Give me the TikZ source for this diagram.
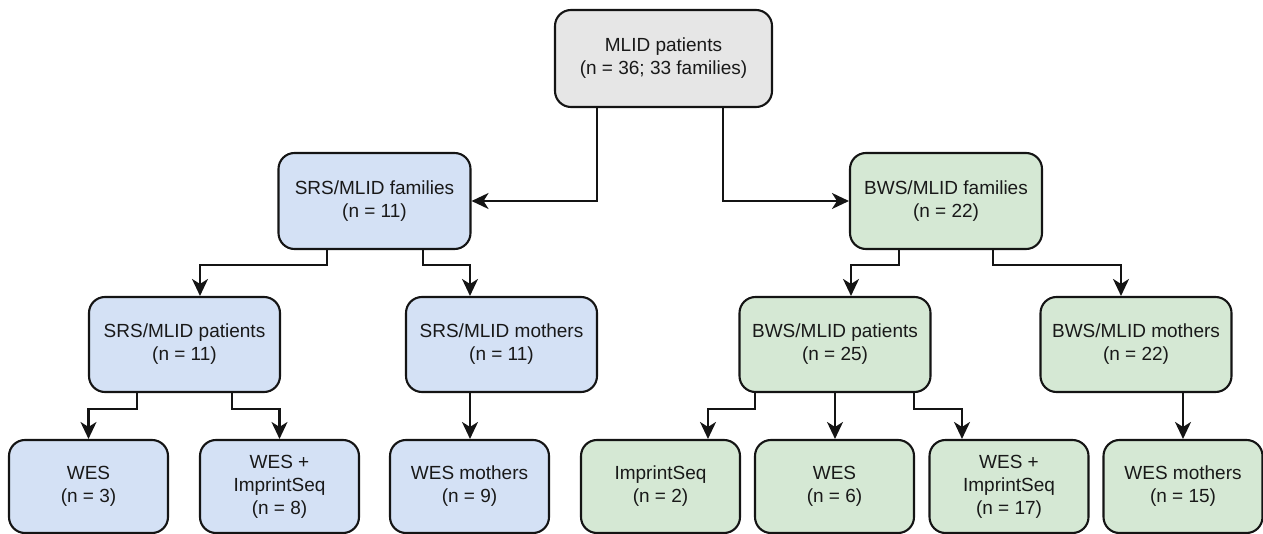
\documentclass[tikz,border=0pt]{standalone}
\usepackage{fontspec}
\setmainfont{Liberation Sans}
\usetikzlibrary{arrows.meta}
\definecolor{grayfill}{HTML}{E6E6E6}
\definecolor{bluefill}{HTML}{D4E1F5}
\definecolor{greenfill}{HTML}{D5E8D4}
\definecolor{edge}{HTML}{141414}
\begin{document}
\begin{tikzpicture}[x=1pt,y=-1pt,
  box/.style={draw=edge, line width=2.1pt, rounded corners=16pt, align=center,
    font=\fontsize{19}{23}\selectfont, text=black!90, inner sep=0pt},
  topbox/.style={box, fill=grayfill, minimum width=217pt, minimum height=97pt},
  midbox/.style={box, minimum width=192pt, minimum height=96pt},
  rowthree/.style={box, minimum width=191pt, minimum height=95pt},
  leaf/.style={box, minimum width=159pt, minimum height=93pt},
  blue/.style={fill=bluefill},
  green/.style={fill=greenfill},
  conn/.style={draw=edge, line width=2.1pt, -{Stealth[length=17pt,width=16pt,inset=5pt]}}
]
\useasboundingbox (0,0) rectangle (1263,534);

\node[topbox] (top) at (663.5,58.5) {MLID patients\\(n = 36; 33 families)};

\node[midbox,blue] (srsfam) at (374.5,201) {SRS/MLID families\\(n = 11)};
\node[midbox,green] (bwsfam) at (946,201) {BWS/MLID families\\(n = 22)};

\node[rowthree,blue] (srspat) at (184.5,344.5) {SRS/MLID patients\\(n = 11)};
\node[rowthree,blue] (srsmom) at (501.5,344.5) {SRS/MLID mothers\\(n = 11)};
\node[rowthree,green] (bwspat) at (835,344.5) {BWS/MLID patients\\(n = 25)};
\node[rowthree,green] (bwsmom) at (1136,344.5) {BWS/MLID mothers\\(n = 22)};

\node[leaf,blue] (wes1) at (88.5,486.5) {WES\\(n = 3)};
\node[leaf,blue] (wesis1) at (279.5,486.5) {WES +\\ImprintSeq\\(n = 8)};
\node[leaf,blue] (wesmom1) at (469.5,486.5) {WES mothers\\(n = 9)};
\node[leaf,green] (imp) at (660.5,486.5) {ImprintSeq\\(n = 2)};
\node[leaf,green] (wes2) at (834.5,486.5) {WES\\(n = 6)};
\node[leaf,green] (wesis2) at (1009,486.5) {WES +\\ImprintSeq\\(n = 17)};
\node[leaf,green] (wesmom2) at (1183,486.5) {WES mothers\\(n = 15)};

% top level
\draw[conn] ([xshift=-66.5pt]top.south) |- (srsfam.east);
\draw[conn] ([xshift=59.5pt]top.south) |- (bwsfam.west);

% SRS families
\draw[conn] ([xshift=-47.5pt]srsfam.south) -- ++(0,15) -| ([xshift=15.5pt]srspat.north);
\draw[conn] ([xshift=48.5pt]srsfam.south) -- ++(0,15) -| ([xshift=-31.5pt]srsmom.north);

% BWS families
\draw[conn] ([xshift=-47pt]bwsfam.south) -- ++(0,15) -| ([xshift=16pt]bwspat.north);
\draw[conn] ([xshift=47pt]bwsfam.south) -- ++(0,15) -| ([xshift=-15pt]bwsmom.north);

% SRS patients
\draw[conn] ([xshift=-47.5pt]srspat.south) -- ++(0,16) -| (wes1.north);
\draw[conn] ([xshift=47.5pt]srspat.south) -- ++(0,16) -| (wesis1.north);

% SRS mothers
\draw[conn] ([xshift=-31.5pt]srsmom.south) -- ([xshift=-31.5pt]srsmom.south |- wesmom1.north);

% BWS patients
\draw[conn] ([xshift=-80pt]bwspat.south) -- ++(0,16) -| ([xshift=47.5pt]imp.north);
\draw[conn] (bwspat.south) -- (bwspat.south |- wes2.north);
\draw[conn] ([xshift=79pt]bwspat.south) -- ++(0,16) -| ([xshift=-47pt]wesis2.north);

% BWS mothers
\draw[conn] ([xshift=47pt]bwsmom.south) -- ([xshift=47pt]bwsmom.south |- wesmom2.north);
\end{tikzpicture}
\end{document}
